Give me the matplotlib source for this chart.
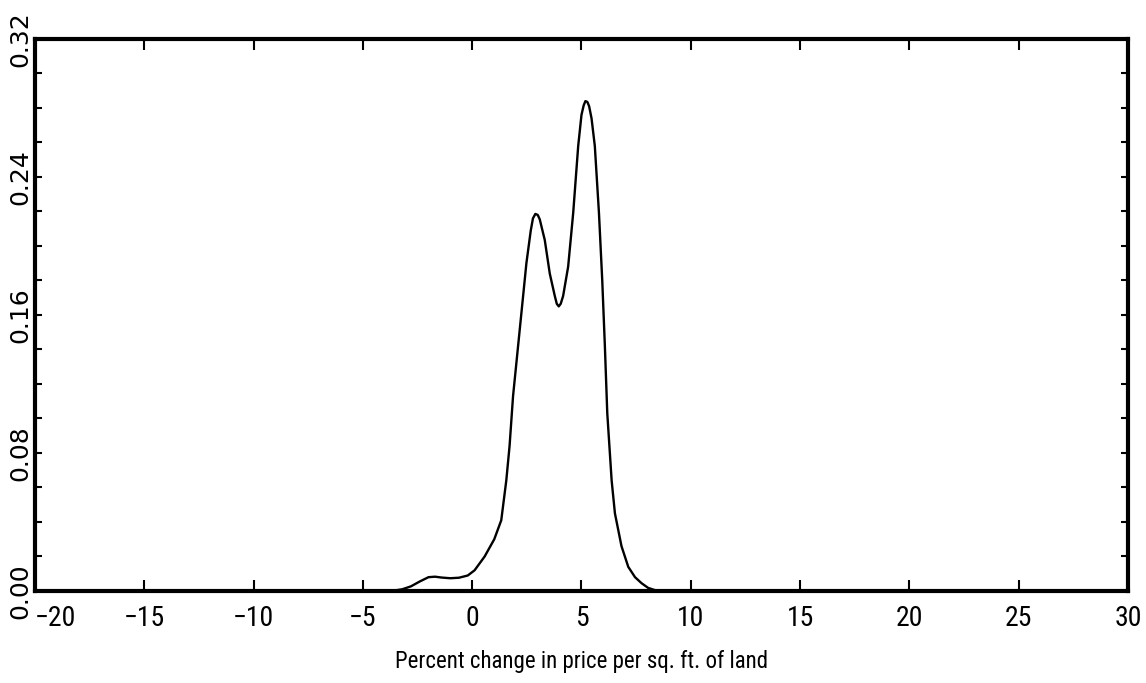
import numpy as np
import matplotlib
matplotlib.use('Agg')
import matplotlib.pyplot as plt
from matplotlib.ticker import MultipleLocator

# density estimate
pct = [-20, -4.0, -3.6, -3.2, -2.8, -2.4, -2.0, -1.7, -1.4, -1.0, -0.6, -0.2, 0.11, 0.57,
       1.01, 1.33, 1.56, 1.71, 1.87, 2.1, 2.33, 2.48, 2.68, 2.78, 2.89, 3.0, 3.09, 3.32,
       3.55, 3.78, 3.87, 3.96, 4.05, 4.16, 4.39, 4.62, 4.85, 5.0, 5.1, 5.18, 5.27, 5.35,
       5.46, 5.61, 5.8, 5.95, 6.07, 6.18, 6.38, 6.53, 6.83, 7.14, 7.45, 7.75, 8.05, 8.36,
       9.0, 30]
dens = [0, 0, 0.0002, 0.0010, 0.0027, 0.0055, 0.0080, 0.0083, 0.0078, 0.0074, 0.0077,
        0.0090, 0.012, 0.020, 0.030, 0.041, 0.064, 0.084, 0.113, 0.142, 0.171, 0.190,
        0.209, 0.2160, 0.2186, 0.2180, 0.2155, 0.2035, 0.184, 0.171, 0.1665, 0.165,
        0.1665, 0.171, 0.188, 0.219, 0.258, 0.2760, 0.2815, 0.2840, 0.2835, 0.281, 0.274,
        0.258, 0.219, 0.180, 0.142, 0.103, 0.064, 0.045, 0.026, 0.014, 0.008, 0.0045,
        0.0018, 0.0005, 0, 0]

xticks = [-20, -15, -10, -5, 0, 5, 10, 15, 20, 25, 30]
yticks = [0.00, 0.08, 0.16, 0.24, 0.32]

narrow = ['Roboto Condensed', 'Liberation Sans Narrow', 'DejaVu Sans']

fig = plt.figure(figsize=(11.46, 6.83), dpi=100)
ax = fig.add_axes([0.0305, 0.1347, 0.9538, 0.8082])

ax.plot(pct, dens, color='black', lw=1.7, zorder=1)

ax.set_xlim(-20, 30)
ax.set_ylim(0, 0.32)

for s in ax.spines.values():
    s.set_linewidth(3.0)
    s.set_zorder(3)

ax.set_xticks(xticks)
ax.set_xticklabels([str(t).replace('-', '\u2212') for t in xticks],
                   family=narrow, stretch='condensed', fontsize=20)
ax.get_xticklabels()[0].set_horizontalalignment('left')
ax.set_yticks(yticks)
ax.set_yticklabels(['%.2f' % t for t in yticks], rotation=90, va='center',
                   family='DejaVu Sans', fontsize=18)
ax.yaxis.set_minor_locator(MultipleLocator(0.02))

ax.tick_params(axis='x', which='major', direction='in', length=8, width=1.5,
               top=True, bottom=True, pad=10)
ax.tick_params(axis='y', which='both', direction='in', length=5, width=1.5,
               left=True, right=True, pad=2)

ax.set_xlabel('Percent change in price per sq. ft. of land', family=narrow,
              stretch='condensed', fontsize=16.5, labelpad=13)

fig.savefig('out.png', dpi=100)
